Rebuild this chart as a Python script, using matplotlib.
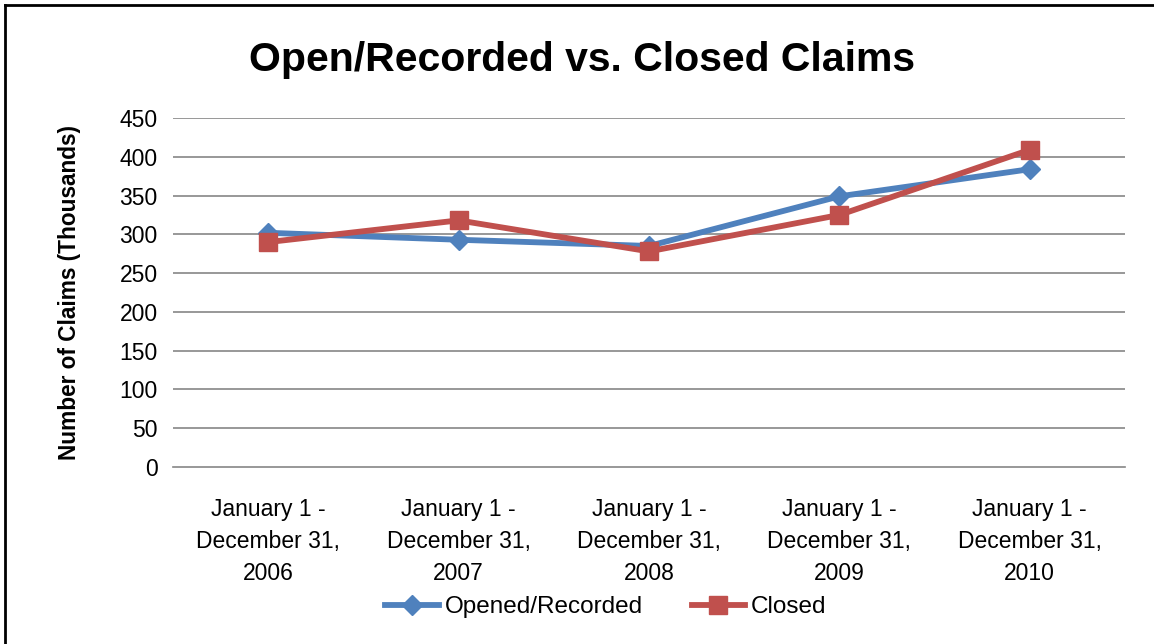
from matplotlib import pyplot as plt
from matplotlib.lines import Line2D

periods = ["January 1 -\nDecember 31,\n2006", "January 1 -\nDecember 31,\n2007",
           "January 1 -\nDecember 31,\n2008", "January 1 -\nDecember 31,\n2009",
           "January 1 -\nDecember 31,\n2010"]
opened = [302, 293, 285, 349, 384]
closed = [290, 318, 278, 325, 409]
yticks = [0, 50, 100, 150, 200, 250, 300, 350, 400, 450]

blue = "#4F81BD"
red = "#C0504D"
grid = "#868686"

plt.rcParams["font.family"] = ["Liberation Sans", "DejaVu Sans"]

fig = plt.figure(figsize=(11.54, 6.44), dpi=100)
ax = fig.add_axes([173/1154, 1 - 467/644, (1125 - 173)/1154, (467 - 118)/644])

x = list(range(len(periods)))
ax.plot(x, opened, color=blue, lw=4.2, marker="D", ms=10, label="Opened/Recorded", zorder=3)
ax.plot(x, closed, color=red, lw=4.2, marker="s", ms=13.5, label="Closed", zorder=4)

ax.set_xlim(-0.5, len(periods) - 0.5)
ax.set_ylim(0, 450)
ax.set_yticks(yticks)
ax.set_xticks(x)
ax.set_xticklabels(periods, fontsize=16.5, linespacing=1.5)
ax.tick_params(axis="x", length=0, pad=22)
ax.tick_params(axis="y", length=0, pad=11, labelsize=16.5)
for t in yticks[1:]:
    ax.axhline(t, color=grid, lw=1.2, zorder=1)
for s in ["top", "right", "left"]:
    ax.spines[s].set_visible(False)
ax.spines["bottom"].set_color(grid)
ax.spines["bottom"].set_linewidth(1.2)

ax.set_ylabel("Number of Claims (Thousands)", fontsize=16.3, fontweight="bold", labelpad=28)
fig.text(582/1154, 1 - 60/644, "Open/Recorded vs. Closed Claims", fontsize=29.5,
         fontweight="bold", ha="center", va="center")

fig.legend(loc="center", bbox_to_anchor=(606/1154, 1 - 607/644), ncol=2, frameon=False,
           fontsize=17.5, handlelength=2.2, handletextpad=0.25, columnspacing=2.0)

# chart frame (only left and top edges visible in the crop)
fig.add_artist(Line2D([5/1154, 5/1154], [0, 1 - 5/644], color="black", lw=2))
fig.add_artist(Line2D([5/1154, 1], [1 - 5/644, 1 - 5/644], color="black", lw=2))

fig.savefig("out.png", dpi=100)
